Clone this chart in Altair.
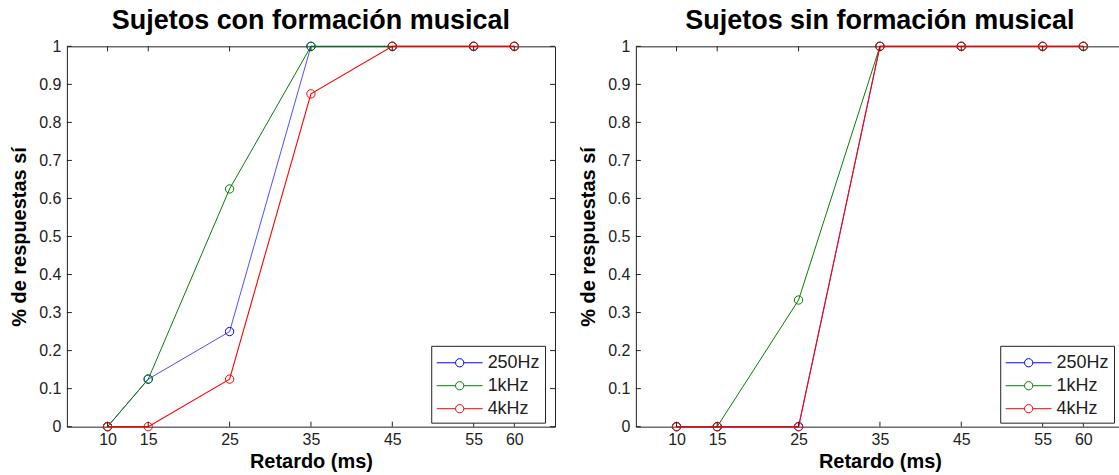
import altair as alt
import pandas as pd

retardos = [10, 15, 25, 35, 45, 55, 60]
series = ["250Hz", "1kHz", "4kHz"]
colores = ["#0000FF", "#008000", "#FF0000"]

# Sujetos con formación musical
con_250 = [0, 0.125, 0.25, 1, 1, 1, 1]
con_1k = [0, 0.125, 0.625, 1, 1, 1, 1]
con_4k = [0, 0, 0.125, 0.875, 1, 1, 1]

# Sujetos sin formación musical
sin_250 = [0, 0, 0, 1, 1, 1, 1]
sin_1k = [0, 0, 0.333, 1, 1, 1, 1]
sin_4k = [0, 0, 0, 1, 1, 1, 1]

x_ticks = [10, 15, 25, 35, 45, 55, 60]
y_ticks = [0, 0.1, 0.2, 0.3, 0.4, 0.5, 0.6, 0.7, 0.8, 0.9, 1.0]
x_dom = [5, 65]
y_dom = [0, 1]

FONT = "Liberation Sans"
W, H = 489, 381
line_widths = [0.7, 1, 1.1]

legend_symbol = ("M-2,0L-0.36,0M0.36,0L2,0"
                 "M0.36,0A0.36,0.36 0 1,1 -0.36,0A0.36,0.36 0 1,1 0.36,0Z")


def make_df(vals):
    rows = []
    for s, v in zip(series, vals):
        for x, y in zip(retardos, v):
            rows.append({"retardo": x, "pct": y, "serie": s})
    return pd.DataFrame(rows)


xt_df = pd.DataFrame({"retardo": x_ticks})
yt_df = pd.DataFrame({"pct": y_ticks})

tx = (x_dom[1] - x_dom[0]) * 5 / W
ty = (y_dom[1] - y_dom[0]) * 5 / H

x_axis = alt.Axis(values=x_ticks, title="Retardo (ms)", ticks=False,
                  grid=False, domain=False, labelPadding=5,
                  titlePadding=4, labelOverlap=False)
y_axis = alt.Axis(values=y_ticks, format=".1~f", title="% de respuestas sí",
                  ticks=False, grid=False, domain=False, labelPadding=6,
                  titlePadding=9, labelOverlap=False, tickCount=11)


def panel(vals, titulo):
    df = make_df(vals)
    xs = alt.Scale(domain=x_dom, nice=False, zero=False)
    ys = alt.Scale(domain=y_dom, nice=False, zero=False)
    color = alt.Color(
        "serie:N",
        scale=alt.Scale(domain=series, range=colores),
        legend=alt.Legend(
            title=None,
            orient="none",
            legendX=365,
            legendY=300,
            symbolType=legend_symbol,
            symbolSize=529,
            symbolStrokeWidth=1,
            symbolOffset=11.5,
            symbolFillColor="transparent",
            labelOffset=16,
            labelFont=FONT,
            labelFontSize=18,
            labelColor="#222222",
            strokeColor="#222222",
            fillColor="white",
            padding=5,
            rowPadding=2,
        ),
    )
    x_enc = alt.X("retardo:Q", scale=xs, axis=x_axis)
    y_enc = alt.Y("pct:Q", scale=ys, axis=y_axis)
    layers = []
    for s, lw in zip(series, line_widths):
        sub = df[df["serie"] == s]
        base = alt.Chart(sub).encode(x=x_enc, y=y_enc, color=color)
        layers.append(base.mark_line(strokeWidth=lw, clip=False))
        layers.append(base.mark_point(shape="circle", filled=False, size=70,
                                      strokeWidth=1, clip=False, opacity=1))
    # inward tick marks (box style)
    layers.append(alt.Chart(xt_df).mark_rule(color="#222222", strokeWidth=1).encode(
        x=x_enc, y=alt.YDatum(y_dom[0], scale=ys, axis=y_axis),
        y2=alt.datum(y_dom[0] + ty)))
    layers.append(alt.Chart(xt_df).mark_rule(color="#222222", strokeWidth=1).encode(
        x=x_enc, y=alt.YDatum(y_dom[1], scale=ys, axis=y_axis),
        y2=alt.datum(y_dom[1] - ty)))
    layers.append(alt.Chart(yt_df).mark_rule(color="#222222", strokeWidth=1).encode(
        y=y_enc, x=alt.XDatum(x_dom[0], scale=xs, axis=x_axis),
        x2=alt.datum(x_dom[0] + tx)))
    layers.append(alt.Chart(yt_df).mark_rule(color="#222222", strokeWidth=1).encode(
        y=y_enc, x=alt.XDatum(x_dom[1], scale=xs, axis=x_axis),
        x2=alt.datum(x_dom[1] - tx)))
    return alt.layer(*layers).properties(
        width=W, height=H,
        title=alt.TitleParams(titulo, font=FONT, fontSize=27, fontWeight="bold",
                              color="black", offset=3, anchor="middle"),
    )


left = panel([con_250, con_1k, con_4k], "Sujetos con formación musical")
right = panel([sin_250, sin_1k, sin_4k], "Sujetos sin formación musical")

chart = alt.hconcat(left, right, spacing=22).resolve_legend(
    color="independent").resolve_scale(color="independent").configure(
    padding={"left": 9, "top": 6, "right": -6, "bottom": 0},
).configure_view(
    stroke="#222222", strokeWidth=1,
).configure_axis(
    labelFont=FONT, labelFontSize=16, labelColor="#222222",
    titleFont=FONT, titleFontSize=20, titleFontWeight="bold", titleColor="black",
).configure_concat(spacing=22)

chart.save("out.html", embed_options={"renderer": "svg", "actions": False})
